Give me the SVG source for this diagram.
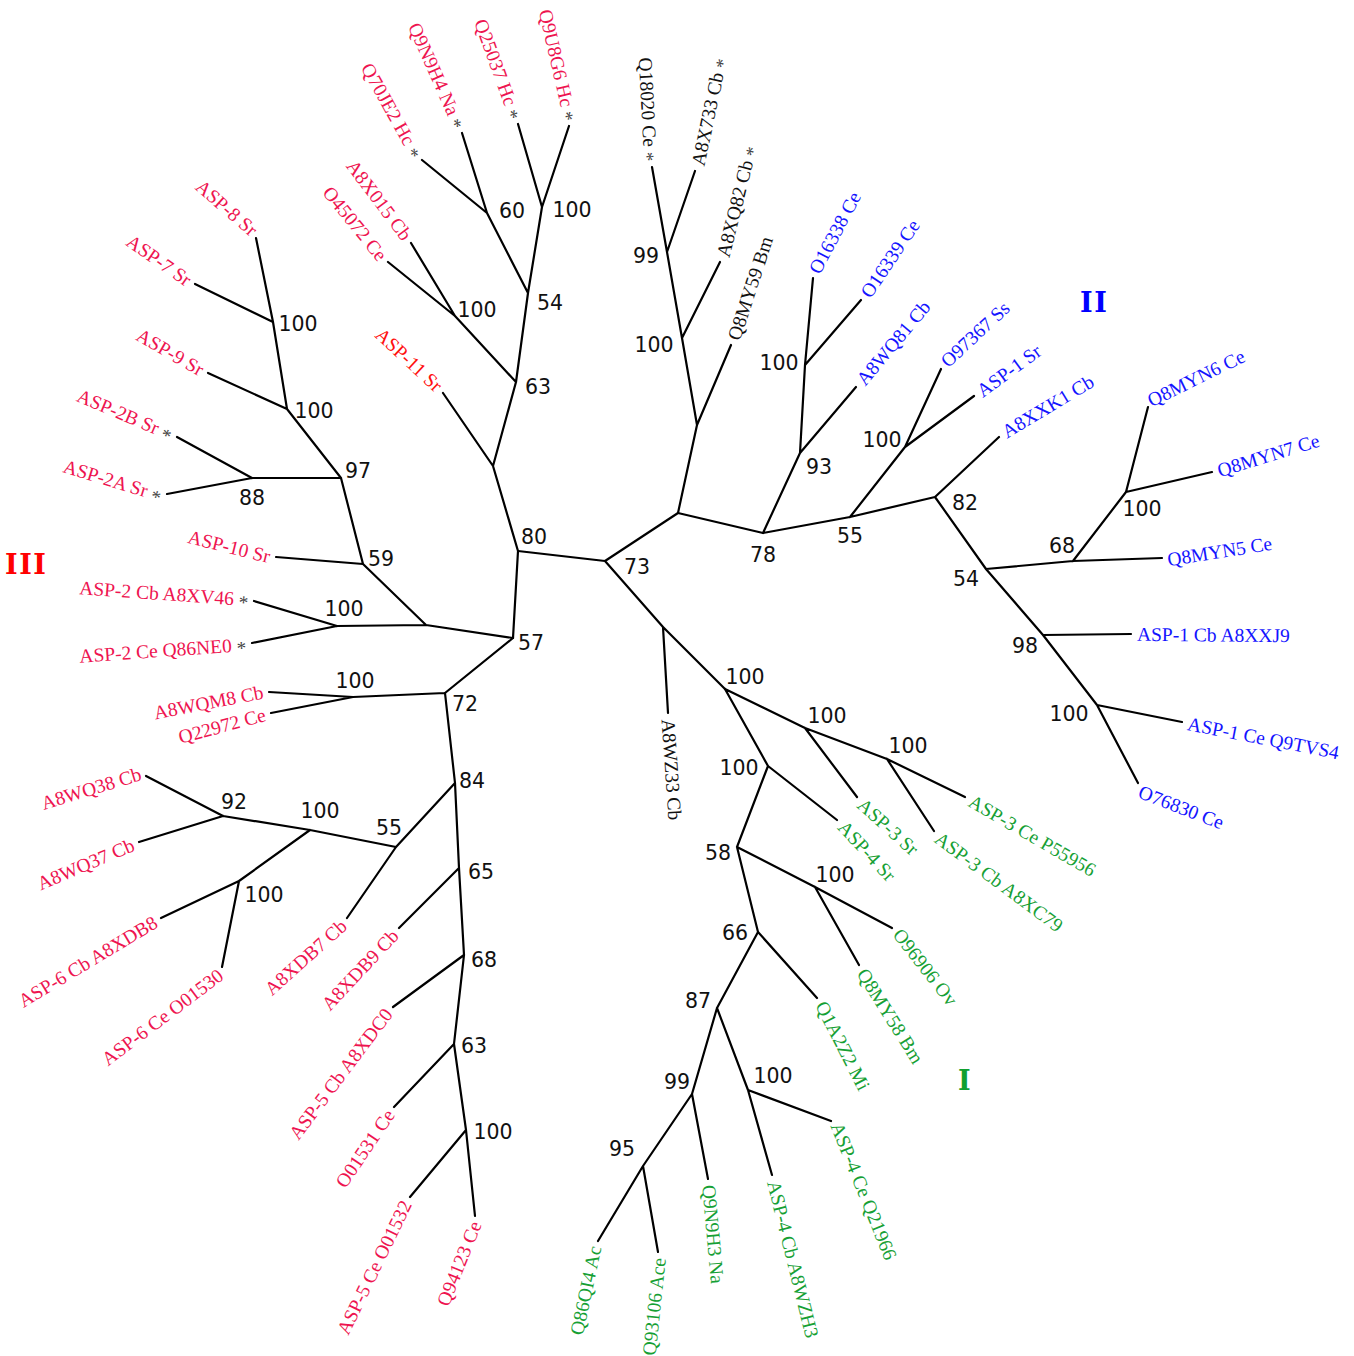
<svg xmlns="http://www.w3.org/2000/svg" width="1354" height="1356" viewBox="0 0 1354 1356">
<style>
.e{stroke:#000;stroke-width:2.2;fill:none;stroke-linecap:round}
.n{font-family:"DejaVu Sans",Verdana,sans-serif;font-size:20.5px;fill:#111;text-anchor:middle}
.l{font-family:"Liberation Serif","Times New Roman",serif;font-size:19.5px}
.s{text-anchor:start}
.d{text-anchor:end}
.r{fill:#ee1450}
.rr{fill:#ff1010}
.b{fill:#1414ff}
.g{fill:#16a034}
.k{fill:#111}
.st{fill:#444;font-size:19px}
.cl{font-family:"DejaVu Serif","Liberation Serif",serif;font-weight:bold;font-size:27px;letter-spacing:1.5px}
</style>
<rect width="1354" height="1356" fill="#fff"/>
<g id="connectors">
<path class="e" d="M605,561L518,551M605,561L678,513M605,561L663,627M663,627L668,713M663,627L725,689"/>
<path class="e" d="M518,551L493,466M518,551L513,638M493,466L443,393M493,466L516,382M516,382L455,316M516,382L528,293M455,316L411,243M455,316L388,262M528,293L487,213M528,293L542,207M487,213L422,160M487,213L462,133M542,207L518,124M542,207L569,126"/>
<path class="e" d="M513,638L426,625M513,638L445,693M426,625L363,564M426,625L337,626M337,626L254,601M337,626L252,643M363,564L276,557M363,564L341,478M341,478L252,478M341,478L287,409M252,478L177,437M252,478L167,494M287,409L208,373M287,409L273,322M273,322L195,284M273,322L256,238"/>
<path class="e" d="M445,693L353,697M445,693L455,783M353,697L269,692M353,697L271,713M455,783L396,847M455,783L459,868M396,847L347,918M396,847L310,830M310,830L223,816M310,830L239,881M223,816L146,776M223,816L139,842M239,881L161,918M239,881L222,967M459,868L399,928M459,868L464,955M464,955L393,1007M464,955L454,1044M454,1044L394,1107M454,1044L466,1130M466,1130L410,1197M466,1130L475,1216"/>
<path class="e" d="M678,513L763,533M678,513L697,425M697,425L731,345M697,425L682,338M682,338L667,252M682,338L720,262M667,252L652,167M667,252L695,171"/>
<path class="e" d="M763,533L800,453M763,533L850,517M800,453L805,365M800,453L856,387M805,365L813,278M805,365L861,300M850,517L905,447M850,517L935,497M905,447L941,369M905,447L974,396M935,497L999,437M935,497L986,569M986,569L1073,561M986,569L1043,635M1073,561L1162,558M1073,561L1126,492M1126,492L1148,407M1126,492L1212,472M1043,635L1131,634M1043,635L1097,705M1097,705L1182,722M1097,705L1138,783"/>
<path class="e" d="M725,689L805,728M725,689L768,766M805,728L857,797M805,728L887,759M887,759L965,797M887,759L934,831M768,766L837,820M768,766L737,847M737,847L815,887M737,847L758,932M815,887L892,928M815,887L859,965M758,932L817,998M758,932L717,1008M717,1008L692,1094M717,1008L748,1090M748,1090L831,1121M748,1090L772,1175M692,1094L708,1179M692,1094L643,1166M643,1166L598,1241M643,1166L658,1252"/>
</g>
<g id="support">
<text class="n" x="512" y="218">60</text>
<text class="n" x="572" y="217">100</text>
<text class="n" x="550" y="310">54</text>
<text class="n" x="538" y="394">63</text>
<text class="n" x="477" y="317">100</text>
<text class="n" x="534" y="544">80</text>
<text class="n" x="637" y="574">73</text>
<text class="n" x="531" y="650">57</text>
<text class="n" x="344" y="616">100</text>
<text class="n" x="381" y="566">59</text>
<text class="n" x="358" y="478">97</text>
<text class="n" x="252" y="505">88</text>
<text class="n" x="314" y="418">100</text>
<text class="n" x="298" y="331">100</text>
<text class="n" x="465" y="711">72</text>
<text class="n" x="355" y="688">100</text>
<text class="n" x="472" y="788">84</text>
<text class="n" x="389" y="835">55</text>
<text class="n" x="320" y="818">100</text>
<text class="n" x="234" y="809">92</text>
<text class="n" x="264" y="902">100</text>
<text class="n" x="481" y="879">65</text>
<text class="n" x="484" y="967">68</text>
<text class="n" x="474" y="1053">63</text>
<text class="n" x="493" y="1139">100</text>
<text class="n" x="646" y="263">99</text>
<text class="n" x="654" y="352">100</text>
<text class="n" x="763" y="562">78</text>
<text class="n" x="819" y="474">93</text>
<text class="n" x="779" y="370">100</text>
<text class="n" x="850" y="543">55</text>
<text class="n" x="882" y="447">100</text>
<text class="n" x="965" y="510">82</text>
<text class="n" x="966" y="586">54</text>
<text class="n" x="1062" y="553">68</text>
<text class="n" x="1142" y="516">100</text>
<text class="n" x="1025" y="653">98</text>
<text class="n" x="1069" y="721">100</text>
<text class="n" x="745" y="684">100</text>
<text class="n" x="827" y="723">100</text>
<text class="n" x="908" y="753">100</text>
<text class="n" x="739" y="775">100</text>
<text class="n" x="718" y="860">58</text>
<text class="n" x="835" y="882">100</text>
<text class="n" x="735" y="940">66</text>
<text class="n" x="698" y="1008">87</text>
<text class="n" x="677" y="1089">99</text>
<text class="n" x="773" y="1083">100</text>
<text class="n" x="622" y="1156">95</text>
</g>
<g id="cladeIII"><text class="cl" x="5" y="574" fill="#ff0000">III</text></g>
<g id="cladeII"><text class="cl" x="1080" y="312" fill="#0000ff">II</text></g>
<g id="cladeI"><text class="cl" x="958" y="1090" fill="#10a030">I</text></g>
<g id="leaf-Q70JE2"><text class="l d r" dy="0.35em" transform="translate(417.4,156.2) rotate(61)">Q70JE2 Hc <tspan class="st" dy="3">*</tspan></text></g>
<g id="leaf-Q9N9H4"><text class="l d r" dy="0.35em" transform="translate(460.2,127.3) rotate(66)">Q9N9H4 Na <tspan class="st" dy="3">*</tspan></text></g>
<g id="leaf-Q25037"><text class="l d r" dy="0.35em" transform="translate(516.3,118.2) rotate(70)">Q25037 Hc <tspan class="st" dy="3">*</tspan></text></g>
<g id="leaf-Q9U8G6"><text class="l d r" dy="0.35em" transform="translate(570.9,120.3) rotate(77)">Q9U8G6 Hc <tspan class="st" dy="3">*</tspan></text></g>
<g id="leaf-A8X015"><text class="l d r" dy="0.35em" transform="translate(407.9,237.9) rotate(53)">A8X015 Cb</text></g>
<g id="leaf-O45072"><text class="l d r" dy="0.35em" transform="translate(383.3,258.2) rotate(51)">O45072 Ce</text></g>
<g id="leaf-ASP11"><text class="l d rr" dy="0.35em" transform="translate(439.6,388) rotate(43)">ASP-11 Sr</text></g>
<g id="leaf-ASP8"><text class="l d r" dy="0.35em" transform="translate(254.8,232.1) rotate(41)">ASP-8 Sr</text></g>
<g id="leaf-ASP7"><text class="l d r" dy="0.35em" transform="translate(189.6,281.4) rotate(35)">ASP-7 Sr</text></g>
<g id="leaf-ASP9"><text class="l d r" dy="0.35em" transform="translate(202.5,370.5) rotate(30)">ASP-9 Sr</text></g>
<g id="leaf-ASP2B"><text class="l d r" dy="0.35em" transform="translate(171.7,434.1) rotate(23)">ASP-2B Sr <tspan class="st" dy="3">*</tspan></text></g>
<g id="leaf-ASP2A"><text class="l d r" dy="0.35em" transform="translate(161.1,495.1) rotate(17)">ASP-2A Sr <tspan class="st" dy="3">*</tspan></text></g>
<g id="leaf-ASP10"><text class="l d r" dy="0.35em" transform="translate(270,556.5) rotate(14)">ASP-10 Sr</text></g>
<g id="leaf-ASP2Cb"><text class="l d r" dy="0.35em" transform="translate(248.3,599.3) rotate(4)">ASP-2 Cb A8XV46 <tspan class="st" dy="3">*</tspan></text></g>
<g id="leaf-ASP2Ce"><text class="l d r" dy="0.35em" transform="translate(246.1,644.2) rotate(-4)">ASP-2 Ce Q86NE0 <tspan class="st" dy="3">*</tspan></text></g>
<g id="leaf-A8WQM8"><text class="l d r" dy="0.35em" transform="translate(263,691.6) rotate(-11)">A8WQM8 Cb</text></g>
<g id="leaf-Q22972"><text class="l d r" dy="0.35em" transform="translate(265.1,714.1) rotate(-15)">Q22972 Ce</text></g>
<g id="leaf-A8WQ38"><text class="l d r" dy="0.35em" transform="translate(140.7,773.2) rotate(-17)">A8WQ38 Cb</text></g>
<g id="leaf-A8WQ37"><text class="l d r" dy="0.35em" transform="translate(133.3,843.8) rotate(-23)">A8WQ37 Cb</text></g>
<g id="leaf-ASP6Cb"><text class="l d r" dy="0.35em" transform="translate(155.6,920.6) rotate(-31)">ASP-6 Cb A8XDB8</text></g>
<g id="leaf-ASP6Ce"><text class="l d r" dy="0.35em" transform="translate(220.8,972.9) rotate(-37)">ASP-6 Ce O01530</text></g>
<g id="leaf-A8XDB7"><text class="l d r" dy="0.35em" transform="translate(343.6,922.9) rotate(-42)">A8XDB7 Cb</text></g>
<g id="leaf-A8XDB9"><text class="l d r" dy="0.35em" transform="translate(394.8,932.2) rotate(-47)">A8XDB9 Cb</text></g>
<g id="leaf-ASP5Cb"><text class="l d r" dy="0.35em" transform="translate(388.2,1010.5) rotate(-53)">ASP-5 Cb A8XDC0</text></g>
<g id="leaf-O01531"><text class="l d r" dy="0.35em" transform="translate(389.9,1111.3) rotate(-56)">O01531 Ce</text></g>
<g id="leaf-ASP5Ce"><text class="l d r" dy="0.35em" transform="translate(406.2,1201.6) rotate(-64)">ASP-5 Ce O01532</text></g>
<g id="leaf-Q94123"><text class="l d r" dy="0.35em" transform="translate(475.6,1222) rotate(-68)">Q94123 Ce</text></g>
<g id="leaf-Q86QI4"><text class="l d g" dy="0.35em" transform="translate(594.9,1246.1) rotate(-78)">Q86QI4 Ac</text></g>
<g id="leaf-Q93106"><text class="l d g" dy="0.35em" transform="translate(659,1257.9) rotate(-84)">Q93106 Ace</text></g>
<g id="leaf-Q9N9H3"><text class="l s g" dy="0.35em" transform="translate(709.1,1184.9) rotate(85)">Q9N9H3 Na</text></g>
<g id="leaf-ASP4Cb"><text class="l s g" dy="0.35em" transform="translate(773.6,1180.8) rotate(76)">ASP-4 Cb A8WZH3</text></g>
<g id="leaf-ASP4Ce"><text class="l s g" dy="0.35em" transform="translate(836.6,1123.1) rotate(68)">ASP-4 Ce Q21966</text></g>
<g id="leaf-Q1A2Z2"><text class="l s g" dy="0.35em" transform="translate(821,1002.5) rotate(63)">Q1A2Z2 Mi</text></g>
<g id="leaf-Q8MY58"><text class="l s g" dy="0.35em" transform="translate(862,970.2) rotate(58)">Q8MY58 Bm</text></g>
<g id="leaf-O96906"><text class="l s g" dy="0.35em" transform="translate(897.3,930.8) rotate(52)">O96906 Ov</text></g>
<g id="leaf-ASP4Sr"><text class="l s g" dy="0.35em" transform="translate(841.7,823.7) rotate(47)">ASP-4 Sr</text></g>
<g id="leaf-ASP3Sr"><text class="l s g" dy="0.35em" transform="translate(860.6,801.8) rotate(42)">ASP-3 Sr</text></g>
<g id="leaf-ASP3Cb"><text class="l s g" dy="0.35em" transform="translate(937.3,836) rotate(36.5)">ASP-3 Cb A8XC79</text></g>
<g id="leaf-ASP3Ce"><text class="l s g" dy="0.35em" transform="translate(970.4,799.6) rotate(30)">ASP-3 Ce P55956</text></g>
<g id="leaf-O76830"><text class="l s b" dy="0.35em" transform="translate(1139.5,791) rotate(21)">O76830 Ce</text></g>
<g id="leaf-ASP1Ce"><text class="l s b" dy="0.35em" transform="translate(1187.9,723.2) rotate(11)">ASP-1 Ce Q9TVS4</text></g>
<g id="leaf-ASP1Cb"><text class="l s b" dy="0.35em" transform="translate(1137,634) rotate(0.5)">ASP-1 Cb A8XXJ9</text></g>
<g id="leaf-Q8MYN5"><text class="l s b" dy="0.35em" transform="translate(1167.5,559.5) rotate(-9)">Q8MYN5 Ce</text></g>
<g id="leaf-Q8MYN7"><text class="l s b" dy="0.35em" transform="translate(1217.8,470.6) rotate(-17)">Q8MYN7 Ce</text></g>
<g id="leaf-Q8MYN6"><text class="l s b" dy="0.35em" transform="translate(1148.5,401.2) rotate(-26)">Q8MYN6 Ce</text></g>
<g id="leaf-A8XXK1"><text class="l s b" dy="0.35em" transform="translate(1003.4,432.9) rotate(-31)">A8XXK1 Cb</text></g>
<g id="leaf-ASP1Sr"><text class="l s b" dy="0.35em" transform="translate(978.8,392.4) rotate(-36)">ASP-1 Sr</text></g>
<g id="leaf-O97367"><text class="l s b" dy="0.35em" transform="translate(943.5,363.6) rotate(-43)">O97367 Ss</text></g>
<g id="leaf-A8WQ81"><text class="l s b" dy="0.35em" transform="translate(859.9,382.4) rotate(-50)">A8WQ81 Cb</text></g>
<g id="leaf-O16339"><text class="l s b" dy="0.35em" transform="translate(864.9,295.5) rotate(-56)">O16339 Ce</text></g>
<g id="leaf-O16338"><text class="l s b" dy="0.35em" transform="translate(813.6,272) rotate(-62)">O16338 Ce</text></g>
<g id="leaf-Q8MY59"><text class="l s k" dy="0.35em" transform="translate(733.3,339.5) rotate(-72)">Q8MY59 Bm</text></g>
<g id="leaf-A8XQ82"><text class="l s k" dy="0.35em" transform="translate(722.7,256.6) rotate(-76)">A8XQ82 Cb <tspan class="st" dy="3">*</tspan></text></g>
<g id="leaf-A8X733"><text class="l s k" dy="0.35em" transform="translate(697.5,165.3) rotate(-78)">A8X733 Cb <tspan class="st" dy="3">*</tspan></text></g>
<g id="leaf-Q18020"><text class="l d k" dy="0.35em" transform="translate(651,161.1) rotate(87)">Q18020 Ce <tspan class="st" dy="3">*</tspan></text></g>
<g id="leaf-A8WZ33"><text class="l s k" dy="0.35em" transform="translate(668.3,719) rotate(86)">A8WZ33 Cb</text></g>
</svg>
